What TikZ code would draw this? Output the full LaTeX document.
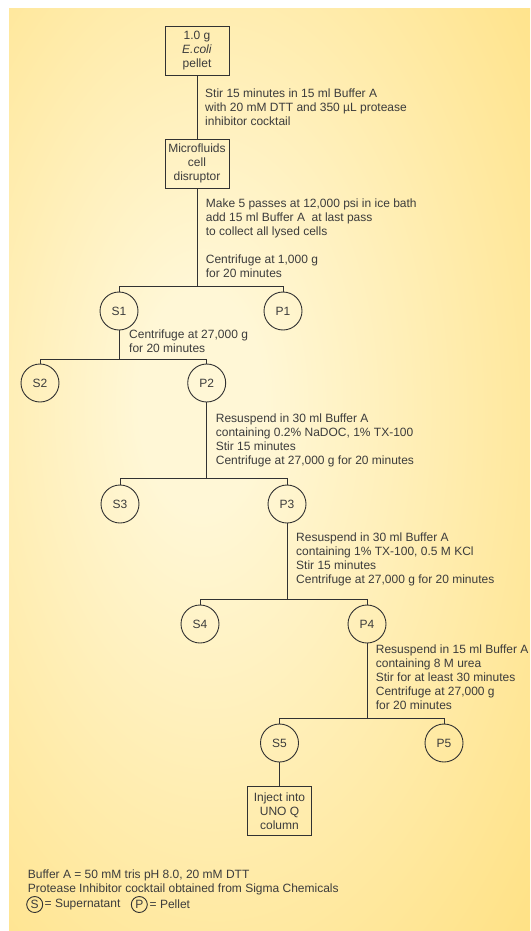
\documentclass[tikz,border=0pt]{standalone}
\usepackage{fontspec}
\setmainfont{Liberation Sans}
\definecolor{bgout}{RGB}{255,223,124}
\definecolor{bgin}{RGB}{255,247,214}
\definecolor{linec}{RGB}{50,50,50}
\definecolor{textc}{RGB}{60,60,60}
\pgfdeclareradialshading{bgshade}{\pgfpoint{-7bp}{4bp}}{color(0bp)=(bgin); color(6bp)=(bgin); color(44bp)=(bgout); color(100bp)=(bgout)}
\tikzset{
  every node/.style={font=\fontsize{12}{14}\selectfont, text=textc},
  box/.style={draw=linec, line width=0.9pt, minimum width=64pt, minimum height=49pt, align=center, inner sep=1pt},
  circ/.style={draw=linec, circle, minimum size=38pt, inner sep=0pt, line width=0.9pt},
  legc/.style={draw=linec, circle, minimum size=16pt, inner sep=0pt, line width=0.9pt},
  note/.style={anchor=north west, align=left, inner sep=0pt},
  conn/.style={draw=linec, line width=1pt}
}
\begin{document}
\begin{tikzpicture}[x=1pt,y=-1pt]
\useasboundingbox (0,0) rectangle (530,931);
\fill[white] (0,0) rectangle (530,931);
\shade[shading=bgshade] (9,9) rectangle (530,931);

% boxes
\node[box] (pellet) at (197,51) {1.0 g\\\textit{E.coli}\\pellet};
\node[box] (micro) at (197,163.5) {Microfluids\\cell\\disruptor};
\node[box] (uno) at (279.5,811) {Inject into\\UNO Q\\column};

% circles
\node[circ] (S1) at (119,311) {S1};
\node[circ] (P1) at (283,311) {P1};
\node[circ] (S2) at (40,383) {S2};
\node[circ] (P2) at (206.7,383) {P2};
\node[circ] (S3) at (120,504) {S3};
\node[circ] (P3) at (287,504) {P3};
\node[circ] (S4) at (200,624) {S4};
\node[circ] (P4) at (367,624) {P4};
\node[circ] (S5) at (279.5,743) {S5};
\node[circ] (P5) at (444,743) {P5};

% bar junctions
\coordinate (b1) at (197,286.7);
\coordinate (b2) at (119,359);
\coordinate (b3) at (206.7,478.3);
\coordinate (b4) at (287,599);
\coordinate (b5) at (367,718);

% connectors
\draw[conn] (pellet.south) -- (micro.north);
\draw[conn] (micro.south) -- (b1);
\draw[conn] (S1.north) -- (S1.north |- b1) -- (P1.north |- b1) -- (P1.north);
\draw[conn] (S1.south) -- (b2);
\draw[conn] (S2.north) -- (S2.north |- b2) -- (P2.north |- b2) -- (P2.north);
\draw[conn] (P2.south) -- (b3);
\draw[conn] (S3.north) -- (S3.north |- b3) -- (P3.north |- b3) -- (P3.north);
\draw[conn] (P3.south) -- (b4);
\draw[conn] (S4.north) -- (S4.north |- b4) -- (P4.north |- b4) -- (P4.north);
\draw[conn] (P4.south) -- (b5);
\draw[conn] (S5.north) -- (S5.north |- b5) -- (P5.north |- b5) -- (P5.north);
\draw[conn] (S5.south) -- (uno.north);

% notes
\node[note] (t1) at (205,88.3) {Stir 15 minutes in 15 ml Buffer A\\with 20 mM DTT and 350 µL protease\\inhibitor cocktail};
\node[note] (t2) at (205.7,198.5) {Make 5 passes at 12,000 psi in ice bath\\add 15 ml Buffer A~ at last pass\\to collect all lysed cells};
\node[note] (t3) at (205.7,254.5) {Centrifuge at 1,000 g\\for 20 minutes};
\node[note] (t4) at (129,329.5) {Centrifuge at 27,000 g\\for 20 minutes};
\node[note] (t5) at (215.7,413.5) {Resuspend in 30 ml Buffer A\\containing 0.2\% NaDOC, 1\% TX-100\\Stir 15 minutes\\Centrifuge at 27,000 g for 20 minutes};
\node[note] (t6) at (296,532.5) {Resuspend in 30 ml Buffer A\\containing 1\% TX-100, 0.5 M KCl\\Stir 15 minutes\\Centrifuge at 27,000 g for 20 minutes};
\node[note] (t7) at (375.7,644.5) {Resuspend in 15 ml Buffer A\\containing 8 M urea\\Stir for at least 30 minutes\\Centrifuge at 27,000 g\\for 20 minutes};

% legend
\node[note] (l1) at (27.7,869.5) {Buffer A = 50 mM tris pH 8.0, 20 mM DTT\\Protease Inhibitor cocktail obtained from Sigma Chemicals};
\node[legc] (ls) at (34.7,904.5) {S};
\node[anchor=west, inner sep=0pt] (lst) at (44.5,904.5) {= Supernatant};
\node[legc] (lp) at (139.3,904.5) {P};
\node[anchor=west, inner sep=0pt] (lpt) at (149.5,904.5) {= Pellet};
\end{tikzpicture}
\end{document}
